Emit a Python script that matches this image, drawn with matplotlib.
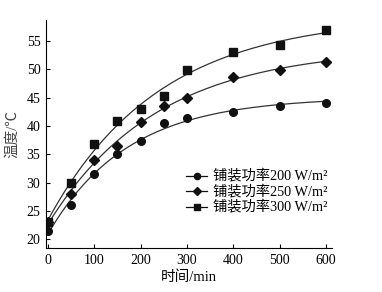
import numpy as np
import matplotlib
matplotlib.use("Agg")
import matplotlib.pyplot as plt

plt.rcParams["font.family"] = ["Liberation Serif", "Noto Sans CJK SC"]

# ========= 数据 =========
time_min = [0, 50, 100, 150, 200, 250, 300, 400, 500, 600]
temp_200 = [21.5, 26.0, 31.5, 35.0, 37.3, 40.5, 41.4, 42.4, 43.6, 44.1]
temp_250 = [23.0, 28.0, 34.0, 36.5, 40.7, 43.6, 45.0, 48.7, 49.8, 51.3]
temp_300 = [23.0, 30.0, 36.8, 40.8, 43.0, 45.3, 49.8, 53.1, 54.2, 57.0]

labels = ["铺装功率200 W/m²", "铺装功率250 W/m²", "铺装功率300 W/m²"]
markers = ["o", "D", "s"]
msizes = [5.5, 5, 5.5]

x_ticks = [0, 100, 200, 300, 400, 500, 600]
y_ticks = [20, 25, 30, 35, 40, 45, 50, 55]


# ========= 拟合 T = a - b*exp(-t/c) =========
def fit_curve(t, y):
    t = np.asarray(t, float)
    y = np.asarray(y, float)
    best = None
    for c in np.linspace(50, 1500, 600):
        A = np.column_stack([np.ones_like(t), -np.exp(-t / c)])
        coef, res, _, _ = np.linalg.lstsq(A, y, rcond=None)
        err = np.sum((A @ coef - y) ** 2)
        if best is None or err < best[0]:
            best = (err, coef, c)
    _, (a, b), c = best
    tt = np.linspace(t.min(), t.max(), 200)
    return tt, a - b * np.exp(-tt / c)


fig = plt.figure(figsize=(3.82, 2.92), dpi=100)
ax = fig.add_axes([46 / 382, 1 - 248 / 292, 286 / 382, 228 / 292])

for ys, lab, mk, ms in zip([temp_200, temp_250, temp_300], labels, markers, msizes):
    tt, yy = fit_curve(time_min, ys)
    ax.plot(tt, yy, color="#333333", lw=0.9)
    ax.plot(time_min, ys, linestyle="none", marker=mk, ms=ms, color="#111111")
    ax.plot([], [], color="#111111", lw=0.9, marker=mk, ms=ms - 1, label=lab)

ax.set_xlim(-4, 613)
ax.set_ylim(18.45, 58.7)
ax.set_xticks(x_ticks)
ax.set_yticks(y_ticks)
ax.spines["top"].set_visible(False)
ax.spines["right"].set_visible(False)
ax.tick_params(direction="in", length=3, width=0.8, labelsize=10, pad=4)
ax.set_xlabel("时间/min", fontsize=10.5, labelpad=3)
ax.set_ylabel("温度/℃", fontsize=10.5, labelpad=5, color="#444444")

ax.legend(loc="lower right", bbox_to_anchor=(1.03, 0.09), frameon=False,
          fontsize=10.3, handlelength=1.5, handletextpad=0.4, labelspacing=0.1)

fig.savefig("out.png", dpi=100)
